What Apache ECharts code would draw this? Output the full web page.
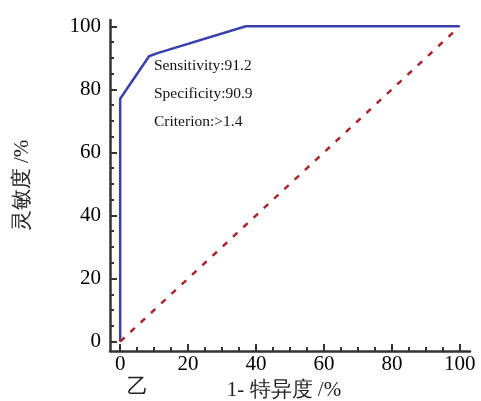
<!DOCTYPE html>
<html>
<head>
<meta charset="utf-8">
<script src="https://cdn.jsdelivr.net/npm/echarts@6/dist/echarts.min.js"></script>
<style>
  html, body { margin: 0; padding: 0; background: #fff; }
  #chart { width: 481px; height: 401px; }
</style>
</head>
<body>
<div id="chart"></div>
<script>
// ROC 曲线数据 (1-特异度, 灵敏度)
var rocCurve = [[0, 0], [0, 77], [8.5, 90.5], [11, 91.5], [37, 100], [100, 100]];
var refLine = [[0, 0], [98, 98]];
var tickValues = [0, 20, 40, 60, 80, 100];
var minorValues = [5, 10, 15, 25, 30, 35, 45, 50, 55, 65, 70, 75, 85, 90, 95];
var annoLines = ['Sensitivity:91.2', 'Specificity:90.9', 'Criterion:>1.4'];

var chart = echarts.init(document.getElementById('chart'));
var serif = '"Liberation Serif", "Times New Roman", serif';

function mainAxis(min, max, extra) {
  return Object.assign({
    type: 'value',
    min: min, max: max,
    splitLine: { show: false },
    axisLine: { show: true, onZero: false, lineStyle: { color: '#333', width: 2.5 } },
    axisTick: { show: true, inside: true, length: 7, customValues: tickValues, lineStyle: { color: '#333', width: 2 } },
    axisLabel: { color: '#000', fontSize: 21, fontFamily: serif, customValues: tickValues }
  }, extra);
}

// 次刻度: 叠加在主轴上, 只画短刻度
function minorAxis(min, max, pos) {
  return {
    type: 'value',
    min: min, max: max,
    position: pos,
    splitLine: { show: false },
    axisLine: { show: false, onZero: false },
    axisTick: { show: true, inside: true, length: 4, customValues: minorValues, lineStyle: { color: '#333', width: 2 } },
    axisLabel: { show: false }
  };
}

var option = {
  animation: false,
  grid: { left: 110, right: 11, top: 20, bottom: 50, outerBoundsMode: 'none', containLabel: false },
  xAxis: [
    mainAxis(-3, 103, {
      position: 'bottom',
      axisLabel: { color: '#000', fontSize: 21, fontFamily: serif, customValues: tickValues, margin: 3 },
      name: '1- 特异度 /%',
      nameLocation: 'middle',
      nameGap: 27,
      nameTextStyle: { color: '#222', fontSize: 21, fontFamily: serif, verticalAlign: 'top', padding: [0, 12, 0, 0] }
    }),
    minorAxis(-3, 103, 'bottom')
  ],
  yAxis: [
    mainAxis(-3, 102, {
      position: 'left',
      axisLabel: { color: '#000', fontSize: 21, fontFamily: serif, customValues: tickValues, margin: 9 },
      name: '灵敏度 /%',
      nameLocation: 'middle',
      nameGap: 77,
      nameRotate: 90,
      nameTextStyle: { color: '#222', fontSize: 21, fontFamily: serif }
    }),
    minorAxis(-3, 102, 'left')
  ],
  series: [
    {
      type: 'line',
      data: rocCurve,
      symbol: 'none',
      lineStyle: { color: '#3a3fae', width: 2.5 }
    },
    {
      type: 'line',
      data: refLine,
      symbol: 'none',
      lineStyle: { color: '#a8262b', width: 2.5, type: [6, 8] }
    }
  ],
  graphic: [
    {
      type: 'text', left: 154, top: 52,
      style: { text: annoLines.join('\n'), fill: '#111', font: '15.5px ' + serif, lineHeight: 28 }
    },
    {
      type: 'text', left: 127, top: 377,
      style: { text: '乙', fill: '#222', font: '21px ' + serif }
    }
  ]
};

chart.setOption(option);
window.addEventListener('resize', function () { chart.resize(); });
</script>
</body>
</html>
